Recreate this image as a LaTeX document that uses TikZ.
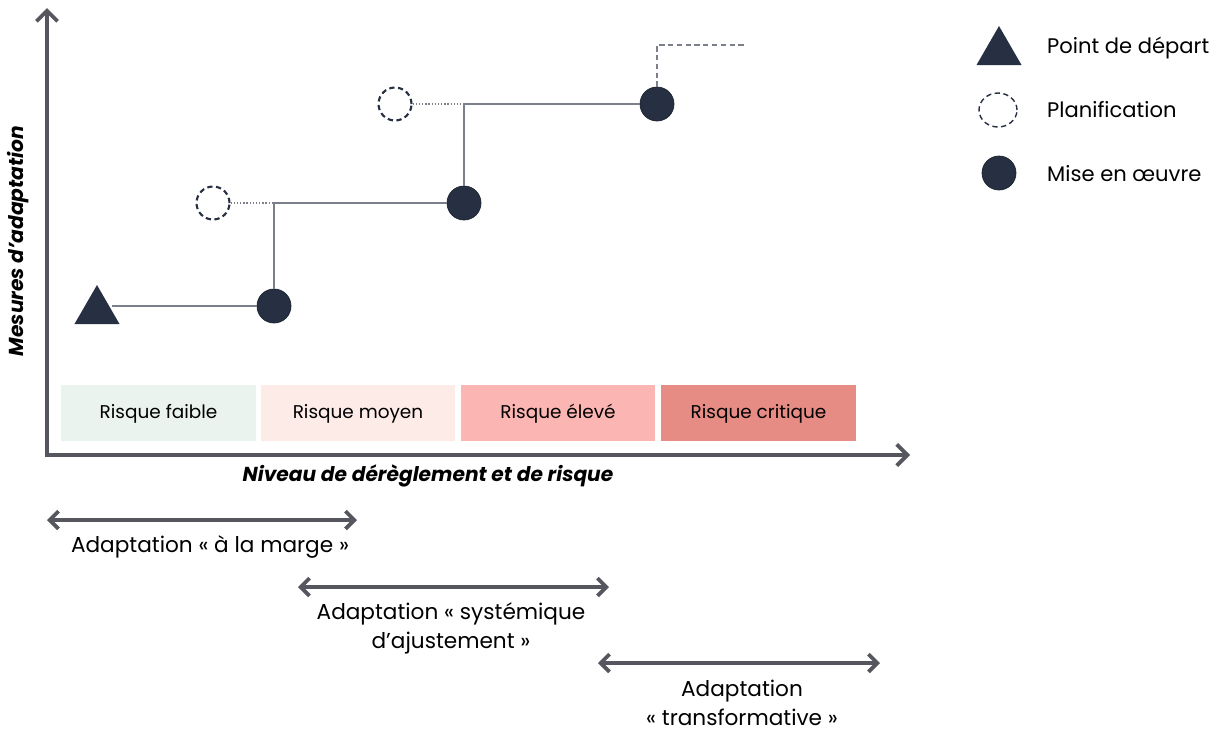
\documentclass[tikz,border=0pt]{standalone}
\usepackage{fontspec}
\setmainfont{Poppins}
\usetikzlibrary{arrows.meta, positioning, shapes.geometric}
\definecolor{navy}{HTML}{263042}
\definecolor{axegray}{HTML}{56565E}
\definecolor{linegray}{HTML}{7A7F8A}
\definecolor{zfaible}{HTML}{EAF3EE}
\definecolor{zmoyen}{HTML}{FDEBE8}
\definecolor{zeleve}{HTML}{FBB5B2}
\definecolor{zcritique}{HTML}{E78C84}
\tikzset{
  impl/.style={circle, draw=navy!70!black, fill=navy, minimum size=6.8mm, inner sep=0pt},
  plan/.style={circle, draw=navy, dash pattern=on 3pt off 2pt, line width=1.2pt, fill=white, minimum size=6.6mm, inner sep=0pt},
  depart/.style={regular polygon, regular polygon sides=3, fill=navy, minimum size=10.4mm, inner sep=0pt},
  zone/.style={minimum width=3.9cm, minimum height=1.12cm, inner sep=0pt, text height=1.2ex, text depth=0ex, font=\fontsize{10.5}{12}\selectfont},
  axe/.style={draw=axegray, line width=2.2pt, -{Straight Barb[length=6pt, width=12pt]}},
  span/.style={draw=axegray, line width=2.2pt, {Straight Barb[length=5pt, width=10pt]}-{Straight Barb[length=5pt, width=10pt]}},
  stepline/.style={draw=linegray, line width=0.8pt},
  plandots/.style={draw=linegray, line width=0.8pt, densely dotted},
  nextdash/.style={draw=linegray, line width=0.6pt, densely dashed},
  lab/.style={font=\fontsize{12.3}{16.4}\selectfont, align=center},
  leg/.style={font=\fontsize{12}{14}\selectfont, anchor=west},
  axlab/.style={font=\bfseries\itshape\fontsize{11.5}{13}\selectfont}
}
\begin{document}
\begin{tikzpicture}[x=0.02cm, y=-0.02cm]
	\useasboundingbox (0,0) rectangle (1219,731);
	% axes
	\coordinate (O) at (47,455);
	\coordinate (ytop) at (47,8);
	\coordinate (xend) at (910,455);
	% risk zones
	\node[zone, fill=zfaible] (z1) at (158.5,413) {Risque faible};
	\node[zone, fill=zmoyen] (z2) at (358,413) {Risque moyen};
	\node[zone, fill=zeleve] (z3) at (558,413) {Risque élevé};
	\node[zone, fill=zcritique] (z4) at (758.5,413) {Risque critique};
	\draw[axe] ([yshift=-1.1pt]O) -- (ytop);
	\draw[axe] ([xshift=-1.1pt]O) -- (xend);
	\node[rotate=90, axlab] (ylab) at (18,241) {Mesures d’adaptation};
	\node[axlab] (xlab) at (428,476) {Niveau de dérèglement et de risque};
	% steps
	\node[depart] (start) at (97,311) {};
	\node[impl] (m1) at (274,306) {};
	\node[impl] (m2) at (464,203) {};
	\node[impl] (m3) at (657,104) {};
	\node[plan] (p1) at (213,203) {};
	\node[plan] (p2) at (395,104) {};
	\coordinate (nxt) at (747,45);
	\draw[stepline] (start.east |- m1) -- (m1);
	\draw[stepline] (m1) |- (m2);
	\draw[stepline] (m2) |- (m3);
	\draw[plandots] (p1) -- (m1 |- p1);
	\draw[plandots] (p2) -- (m2 |- p2);
	\draw[nextdash] (m3) |- (nxt);
	% legend
	\node[depart] (lstart) at (999,52) {};
	\node[leg] (tstart) at (1041,48) {Point de départ};
	\node[plan, line width=0.8pt, minimum width=7.6mm, minimum height=6.8mm, ellipse] (lplan) at (998,110) {};
	\node[leg] (tplan) at (1041,110) {Planification};
	\node[impl] (limpl) at (999,173) {};
	\node[leg] (timpl) at (1041,174) {Mise en œuvre};
	% adaptation spans
	\coordinate (a1) at (47,520); \coordinate (b1) at (357,520);
	\coordinate (a2) at (298,587); \coordinate (b2) at (609,587);
	\coordinate (a3) at (598,663); \coordinate (b3) at (880,663);
	\draw[span] (a1) -- (b1);
	\draw[span] (a2) -- (b2);
	\draw[span] (a3) -- (b3);
	\node[lab] (s1) at (210,547) {Adaptation « à la marge »};
	\node[lab] (s2) at (451,628) {Adaptation « systémique\\d’ajustement »};
	\node[lab] (s3) at (742,703) {Adaptation\\« transformative »};
\end{tikzpicture}
\end{document}
